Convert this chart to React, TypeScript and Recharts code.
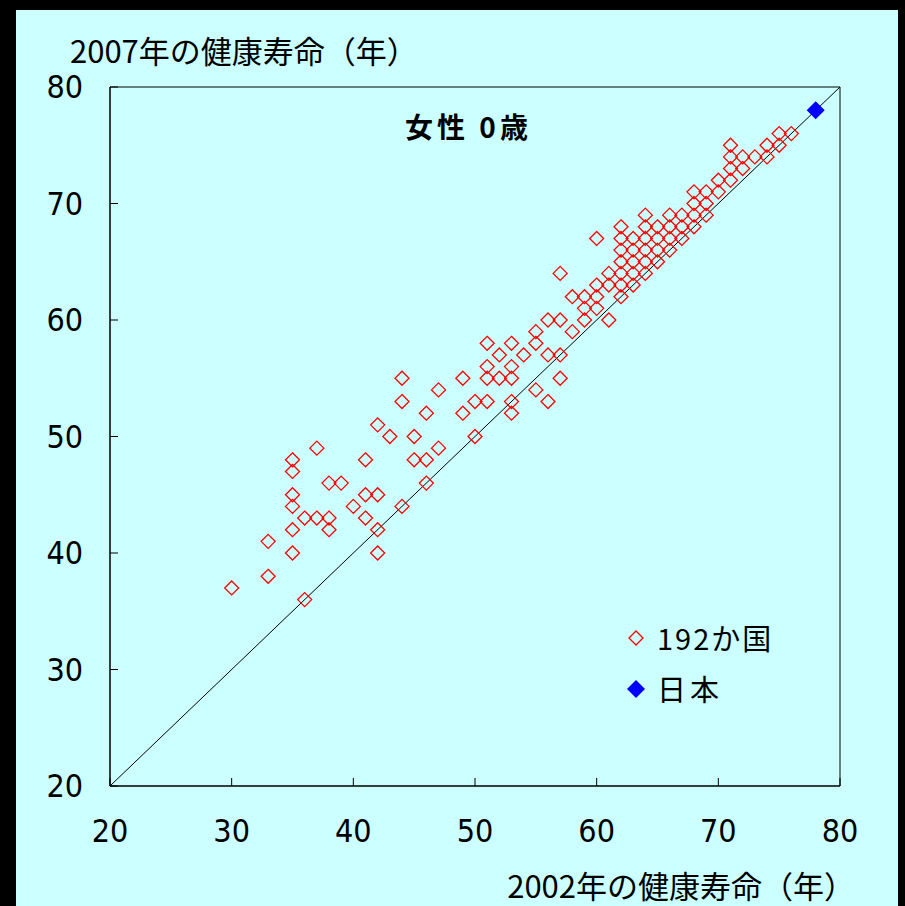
import React from "react";
import {
  ScatterChart,
  Scatter,
  XAxis,
  YAxis,
  ReferenceLine,
  ReferenceArea,
  Legend,
} from "recharts";

// 2002 / 2007 healthy life expectancy, females at age 0
const countries2002 = [
  30, 33, 33, 35, 35, 35, 35, 35, 35, 36, 36, 37, 37, 38, 38, 38, 39, 40, 41, 41,
  41, 42, 42, 42, 42, 43, 44, 44, 44, 45, 45, 46, 46, 46, 47, 47, 49, 49, 50, 50,
  51, 51, 51, 51, 52, 52, 53, 53, 53, 53, 53, 54, 55, 55, 55, 56, 56, 56, 57, 57,
  57, 57, 58, 58, 59, 59, 59, 60, 60, 60, 60, 61, 61, 61,
  62, 62, 62, 62, 62, 62, 62, 63, 63, 63, 63, 63, 64, 64, 64, 64, 64, 64,
  65, 65, 65, 65, 66, 66, 66, 66, 67, 67, 67, 68, 68, 68, 68, 69, 69, 69,
  70, 70, 71, 71, 71, 71, 72, 72, 73, 74, 74, 75, 75, 76,
];
const countries2007 = [
  37, 41, 38, 48, 47, 45, 44, 42, 40, 43, 36, 49, 43, 46, 43, 42, 46, 44, 48, 45,
  43, 51, 45, 42, 40, 50, 55, 53, 44, 50, 48, 52, 48, 46, 54, 49, 55, 52, 53, 50,
  58, 56, 55, 53, 57, 55, 58, 56, 55, 53, 52, 57, 59, 58, 54, 60, 57, 53, 64, 60,
  57, 55, 62, 59, 62, 61, 60, 67, 62, 61, 63, 64, 60, 63,
  62, 63, 64, 65, 66, 67, 68, 63, 64, 65, 66, 67, 64, 65, 66, 67, 68, 69,
  65, 66, 67, 68, 66, 67, 68, 69, 67, 68, 69, 68, 69, 70, 71, 69, 70, 71,
  71, 72, 72, 73, 74, 75, 73, 74, 74, 74, 75, 75, 76, 76,
];
const japan2002 = [78];
const japan2007 = [78];

const axisTicks = [20, 30, 40, 50, 60, 70, 80];
const seriesNames = ["192か国", "日本"];
const chartTitle = "女性 0歳";
const yTitle = "2007年の健康寿命（年）";
const xTitle = "2002年の健康寿命（年）";

const countryData = countries2002.map((x, i) => ({ x, y: countries2007[i] }));
const japanData = japan2002.map((x, i) => ({ x, y: japan2007[i] }));

const RED = "#FF0000";
const BLUE = "#0000FF";
const BG = "#CCFFFF";
const jpFont = '"Noto Sans CJK JP", sans-serif';
const numFont = '"Liberation Sans Narrow", "DejaVu Sans Condensed", "Noto Sans CJK JP", sans-serif';

const TICK_LEN = 8;
const Y_GAP = 27; // distance from axis line to right edge of y labels
const X_GAP = 33; // distance from axis line to top of x labels

const HollowDiamond = (props: any) => {
  const { cx, cy } = props;
  const r = 7;
  return (
    <path
      d={`M${cx},${cy - r}L${cx + r},${cy}L${cx},${cy + r}L${cx - r},${cy}Z`}
      fill="none"
      stroke={RED}
      strokeWidth={1.3}
    />
  );
};

const SolidDiamond = (props: any) => {
  const { cx, cy } = props;
  const r = 9;
  return (
    <path
      d={`M${cx},${cy - r}L${cx + r},${cy}L${cx},${cy + r}L${cx - r},${cy}Z`}
      fill={BLUE}
      stroke="none"
    />
  );
};

// y tick: x is label anchor (axis - gap); draw an inward tick from the axis
const YTick = (props: any) => {
  const { x, y, payload } = props;
  const ax = x + Y_GAP;
  return (
    <g>
      <line x1={ax} y1={y} x2={ax + TICK_LEN} y2={y} stroke="#000" />
      <text x={x} y={y} dy={11} textAnchor="end" fill="#000" fontSize={32} fontFamily={numFont}>
        {payload.value}
      </text>
    </g>
  );
};

const XTick = (props: any) => {
  const { x, y, payload } = props;
  const ay = y - X_GAP;
  return (
    <g>
      <line x1={x} y1={ay} x2={x} y2={ay - TICK_LEN} stroke="#000" />
      <text x={x} y={y} dy={23} textAnchor="middle" fill="#000" fontSize={32} fontFamily={numFont}>
        {payload.value}
      </text>
    </g>
  );
};

const LegendBox = () => (
  <div style={{ fontFamily: jpFont, fontSize: 29, color: "#000", lineHeight: "51px", letterSpacing: 2 }}>
    <div style={{ display: "flex", alignItems: "center" }}>
      <svg width={22} height={22} style={{ marginRight: 10 }}>
        <path d="M11,4L18,11L11,18L4,11Z" fill="none" stroke={RED} strokeWidth={1.3} />
      </svg>
      <span>{seriesNames[0]}</span>
    </div>
    <div style={{ display: "flex", alignItems: "center" }}>
      <svg width={22} height={22} style={{ marginRight: 10 }}>
        <path d="M11,2L20,11L11,20L2,11Z" fill={BLUE} />
      </svg>
      <span style={{ letterSpacing: 4 }}>{seriesNames[1]}</span>
    </div>
  </div>
);

export default function App() {
  return (
    <div style={{ position: "absolute", left: 0, top: 0, width: 905, height: 906, background: "#000" }}>
      <div style={{ position: "absolute", left: 16, top: 10, width: 882, height: 896, background: BG }} />
      <div style={{ position: "absolute", left: 0, top: 0 }}>
        <ScatterChart width={905} height={906} margin={{ top: 87, right: 65, bottom: 60, left: 50 }}>
          <ReferenceArea x1={20} x2={80} y1={20} y2={80} fill="none" stroke="#000" strokeWidth={1} ifOverflow="visible" />
          <XAxis
            type="number"
            dataKey="x"
            domain={[20, 80]}
            ticks={axisTicks}
            height={60}
            axisLine={{ stroke: "#000" }}
            tickLine={false}
            tickSize={0}
            tickMargin={X_GAP}
            tick={XTick}
            interval={0}
            allowDataOverflow
          />
          <YAxis
            type="number"
            dataKey="y"
            domain={[20, 80]}
            ticks={axisTicks}
            width={60}
            axisLine={{ stroke: "#000" }}
            tickLine={false}
            tickSize={0}
            tickMargin={Y_GAP}
            tick={YTick}
            interval={0}
            allowDataOverflow
          />
          <ReferenceLine
            segment={[{ x: 20, y: 20 }, { x: 80, y: 80 }]}
            stroke="#000"
            strokeWidth={1}
          />
          <Scatter name={seriesNames[0]} data={countryData} shape={HollowDiamond} isAnimationActive={false} />
          <Scatter name={seriesNames[1]} data={japanData} shape={SolidDiamond} isAnimationActive={false} />
          <Legend
            layout="vertical"
            align="center"
            verticalAlign="middle"
            content={LegendBox}
            wrapperStyle={{ position: "absolute", left: 625, top: 612, width: 220, height: 110 }}
          />
        </ScatterChart>
      </div>
      <div style={{ position: "absolute", left: 70, top: 30, fontFamily: jpFont, fontSize: 31, color: "#000", whiteSpace: "nowrap", lineHeight: "40px" }}>
        {yTitle}
      </div>
      <div style={{ position: "absolute", right: 50, top: 865, fontFamily: jpFont, fontSize: 31, color: "#000", whiteSpace: "nowrap", lineHeight: "40px" }}>
        {xTitle}
      </div>
      <div style={{ position: "absolute", left: 405, top: 108, fontFamily: jpFont, fontSize: 28, fontWeight: 700, color: "#000", whiteSpace: "nowrap", lineHeight: "36px", letterSpacing: 4 }}>
        {chartTitle}
      </div>
    </div>
  );
}
